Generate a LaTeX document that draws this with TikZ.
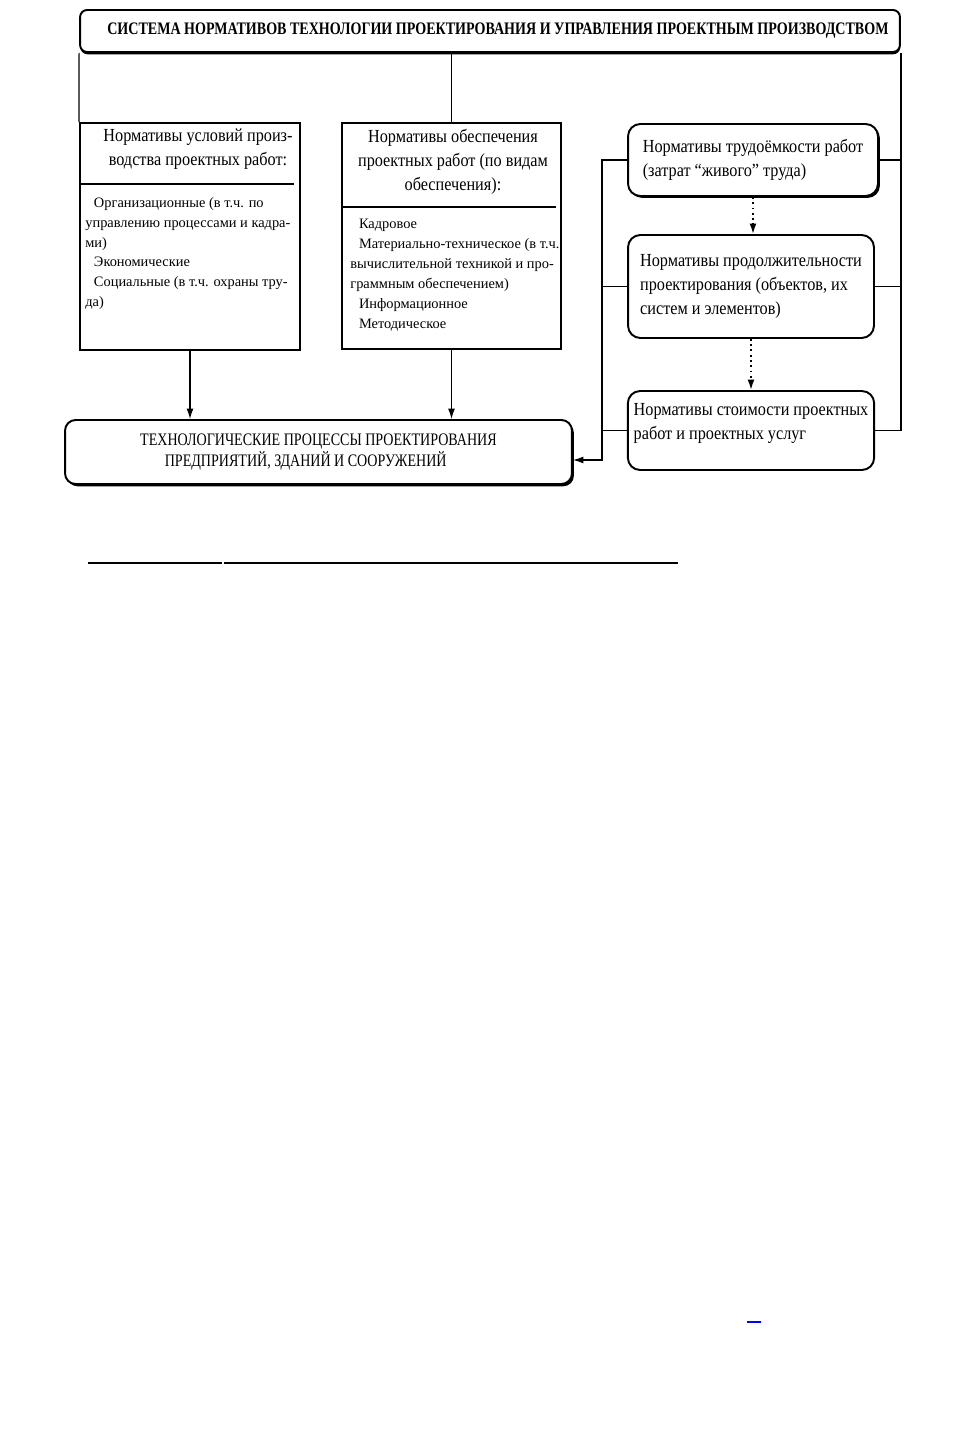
\documentclass[tikz,border=0pt]{standalone}
\usepackage{fontspec}
\setmainfont{Liberation Serif}
\newfontfamily\narrowserif[FakeStretch=0.8]{Liberation Serif}
\newfontfamily\bodyserif[FakeStretch=0.88]{Liberation Serif}
\usetikzlibrary{arrows.meta, positioning, shadows}

\begin{document}
\begin{tikzpicture}[x=0.02cm, y=-0.02cm,
    frame/.style={draw, line width=1.1pt, fill=white},
    roundbox/.style={draw, line width=1.1pt, fill=white, rounded corners=7pt, align=left, font=\bodyserif\fontsize{10.5}{13.6}\selectfont},
    heavybox/.style={roundbox, drop shadow={shadow xshift=1.1pt, shadow yshift=-1.1pt, fill=black, opacity=1}},
    headtext/.style={font=\bodyserif\fontsize{10.5}{13.6}\selectfont, align=center, inner sep=0pt},
    itemtext/.style={font=\fontsize{8.2}{11.3}\selectfont, align=left, inner sep=0pt, anchor=north west},
    link/.style={line width=0.7pt},
    arrow/.style={link, -{Latex[length=6pt, width=4pt]}},
    dotarrow/.style={line width=1pt, dotted, -{Latex[length=6pt, width=4pt]}}]
    \useasboundingbox (0,0) rectangle (964,1436);

    % Title
    \node[draw, line width=1.1pt, fill=white, rounded corners=4pt, minimum width=164mm, minimum height=8.4mm,
        drop shadow={shadow xshift=0.2pt, shadow yshift=-1.3pt, fill=black, opacity=1},
        font=\narrowserif\bfseries\fontsize{10}{12}\selectfont] (title) at (490,31)
        {\hspace*{9pt}СИСТЕМА НОРМАТИВОВ ТЕХНОЛОГИИ ПРОЕКТИРОВАНИЯ И УПРАВЛЕНИЯ ПРОЕКТНЫМ ПРОИЗВОДСТВОМ};

    % Left and middle boxes
    \node[frame, minimum width=44mm, minimum height=45.4mm] (cond) at (190,236.5) {};
    \node[headtext] (condhead) at (198,149) {Нормативы условий произ-\\водства проектных работ:};
    \draw[link] (cond.west |- 0,184) -- ([xshift=-1.4mm]cond.east |- 0,184);
    \node[itemtext] (condlist) at (85,197) {\hspace*{0.6em}Организационные (в т.ч. по\\управлению процессами и кадра-\\ми)\\\hspace*{0.6em}Экономические\\\hspace*{0.6em}Социальные (в т.ч. охраны тру-\\да)};

    \node[frame, minimum width=43.8mm, minimum height=45.2mm] (prov) at (451.5,236) {};
    \node[headtext] (provhead) at (453,161.5) {Нормативы обеспечения\\проектных работ (по видам\\обеспечения):};
    \draw[link] (prov.west |- 0,207) -- ([xshift=-1.2mm]prov.east |- 0,207);
    \node[itemtext] (provlist) at (350,219) {\hspace*{0.6em}Кадровое\\\hspace*{0.6em}Материально-техническое (в т.ч.\\вычислительной техникой и про-\\граммным обеспечением)\\\hspace*{0.6em}Информационное\\\hspace*{0.6em}Методическое};

    % Right column
    \node[heavybox, minimum width=50mm, minimum height=14.4mm] (norm1) at (753,160) {Нормативы трудоёмкости работ\\(затрат “живого” труда)};
    \node[roundbox, minimum width=49.2mm, minimum height=20.6mm] (norm2) at (751,286.5) {Нормативы продолжительности\\проектирования (объектов, их\\систем и элементов)};
    \node[roundbox, minimum width=49.2mm, minimum height=15.8mm, text depth=10pt] (norm3) at (751,430.5) {Нормативы стоимости проектных\\работ и проектных услуг};

    \draw[dotarrow] (norm1.south) -- (norm1.south |- norm2.north);
    \draw[dotarrow] (norm2.south) -- (norm2.south |- norm3.north);

    % Bottom box
    \node[draw, line width=1.1pt, fill=white, rounded corners=6pt, minimum width=101.4mm, minimum height=12.8mm,
        drop shadow={shadow xshift=1.1pt, shadow yshift=-1.3pt, fill=black, opacity=1},
        font=\narrowserif\fontsize{10}{12.4}\selectfont, align=left] (tech) at (318.5,452)
        {ТЕХНОЛОГИЧЕСКИЕ ПРОЦЕССЫ ПРОЕКТИРОВАНИЯ\\\hspace*{14pt}ПРЕДПРИЯТИЙ, ЗДАНИЙ И СООРУЖЕНИЙ};

    % Connections
    \draw[link] (title.south west) -- (cond.north west);
    \draw[link] (prov.north |- title.south) -- (prov.north);
    \draw[link] (title.south east) |- (norm3.east);
    \draw[link] (norm1.east) -- (norm1.east -| title.south east);
    \draw[link] (norm2.east) -- (norm2.east -| title.south east);

    \coordinate (lbus) at (602,460);
    \draw[link] (norm2.west) -- (norm2.west -| lbus);
    \draw[link] (norm3.west) -- (norm3.west -| lbus);
    \draw[arrow] (norm1.west) -| (lbus) -- (lbus -| tech.east);

    \draw[arrow] (cond.south) -- (cond.south |- tech.north);
    \draw[arrow] (prov.south) -- (prov.south |- tech.north);

    % Page rules
    \draw[link] (88,563) -- (222,563);
    \draw[link] (224,563) -- (678,563);
    \draw[blue, link] (747,1322) -- (761,1322);
\end{tikzpicture}
\end{document}
